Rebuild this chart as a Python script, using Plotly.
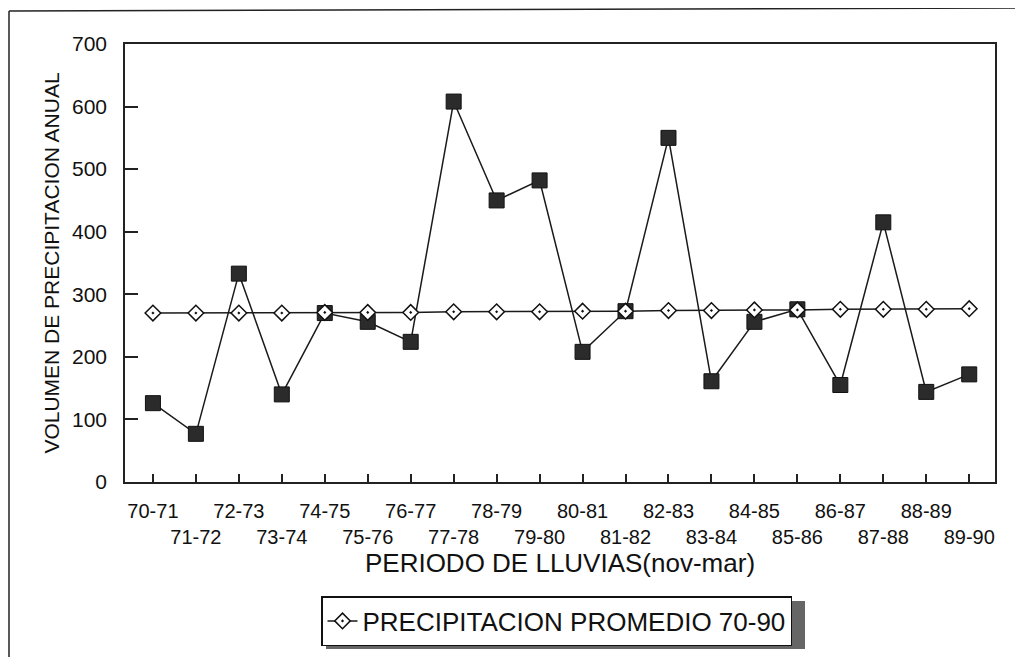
import plotly.graph_objects as go

periods = ["70-71", "71-72", "72-73", "73-74", "74-75", "75-76", "76-77", "77-78",
           "78-79", "79-80", "80-81", "81-82", "82-83", "83-84", "84-85", "85-86",
           "86-87", "87-88", "88-89", "89-90"]
precip_anual = [126, 77, 333, 140, 270, 256, 224, 608, 450, 482,
                208, 273, 550, 161, 256, 276, 155, 415, 144, 172]
precip_promedio = [270, 270, 270, 270, 271, 271, 271, 272, 272, 272,
                   273, 273, 274, 274, 275, 275, 276, 276, 276, 277]
y_ticks = [0, 100, 200, 300, 400, 500, 600, 700]

tick_text = [p if i % 2 == 0 else "<br>" + p for i, p in enumerate(periods)]

# page body has an 8px margin; work in screen pixels and convert
OFF = 8
W, H = 1023 - OFF, 657 - OFF
PL, PR, PT, PB = 125, 995, 44, 482          # plot area in screen pixels
L, T = PL - OFF, PT - OFF
R, B = W - (PR - OFF), H - (PB - OFF)
pw, ph = PR - PL, PB - PT

def px(x):
    return (x - PL) / pw

def py(y):
    return (PB - y) / ph

FONT = "Liberation Sans, Arial, sans-serif"

fig = go.Figure()
fig.add_trace(go.Scatter(
    x=periods, y=precip_anual, mode="lines+markers", showlegend=False,
    name="PRECIPITACION ANUAL",
    line=dict(color="#1a1a1a", width=1.5),
    marker=dict(symbol="square", size=15, color="#2b2b2b",
                line=dict(color="#111111", width=1)),
))
fig.add_trace(go.Scatter(
    x=periods, y=precip_promedio, mode="lines+markers",
    name="PRECIPITACION PROMEDIO 70-90",
    line=dict(color="#1a1a1a", width=1.5),
    marker=dict(symbol="diamond-dot", size=12, color="white",
                line=dict(color="#111111", width=1.5)),
))

shapes = [
    dict(type="line", xref="paper", yref="paper", x0=px(9), x1=px(9),
         y0=py(11), y1=py(700), line=dict(color="#222", width=1.5)),
    dict(type="line", xref="paper", yref="paper", x0=px(9), x1=px(1030),
         y0=py(11), y1=py(8), line=dict(color="#222", width=1.5)),
    # legend drop shadow
    dict(type="rect", xref="paper", yref="paper", x0=px(326), x1=px(805),
         y0=py(601), y1=py(649), line=dict(width=0), fillcolor="#666666",
         layer="below"),
]

fig.update_layout(
    width=W, height=H,
    margin=dict(l=L, r=R, t=T, b=B, autoexpand=False),
    paper_bgcolor="white", plot_bgcolor="white",
    font=dict(family=FONT, size=20, color="#111"),
    shapes=shapes,
    showlegend=True,
    legend=dict(x=px(321), y=py(596), xanchor="left", yanchor="top",
                bgcolor="white", bordercolor="#111", borderwidth=1.5,
                font=dict(size=26, family=FONT), itemwidth=30),
    xaxis=dict(
        type="category", range=[-0.65, 19.6],
        tickmode="array", tickvals=periods, ticktext=tick_text, tickangle=0,
        ticks="inside", ticklen=8, tickcolor="#222", tickwidth=1.5,
        showline=True, linecolor="#222", linewidth=1.5, mirror=True,
        showgrid=False, zeroline=False, automargin=False,
        tickfont=dict(size=20), ticklabelstandoff=10,
        title=dict(text="PERIODO DE LLUVIAS(nov-mar)", font=dict(size=26), standoff=4),
    ),
    yaxis=dict(
        range=[0, 700], tickmode="array", tickvals=y_ticks,
        ticks="inside", ticklen=13, tickcolor="#222", tickwidth=1.5,
        showline=True, linecolor="#222", linewidth=1.5, mirror=True,
        showgrid=False, zeroline=False, automargin=False,
        tickfont=dict(size=21), ticklabelstandoff=12,
        title=dict(text="VOLUMEN DE PRECIPITACION ANUAL", font=dict(size=21), standoff=7),
    ),
)

fig.write_html("out.html")
